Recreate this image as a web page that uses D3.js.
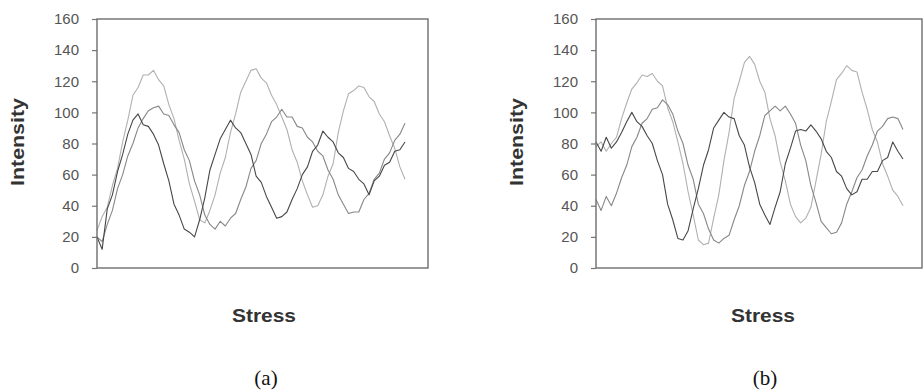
<!DOCTYPE html>
<html>
<head>
<meta charset="utf-8">
<script src="https://d3js.org/d3.v7.min.js"></script>
<style>
  body { margin: 0; background: #fff; }
  svg { display: block; }
</style>
</head>
<body>
<div id="chart"></div>
<script>
// stress steps (arbitrary units, 61 samples along the x axis)
var stress = d3.range(0, 61);

var yTicks = [0, 20, 40, 60, 80, 100, 120, 140, 160];

// panel (a)
var leftLight = [24, 33, 39, 53, 64, 81, 95, 111, 116, 124, 124, 127, 121, 117, 105, 96, 82, 70, 54, 43,
  31, 29, 37, 47, 61, 71, 87, 99, 113, 120, 127, 128, 122, 119, 111, 105, 97, 89, 76, 68,
  56, 47, 39, 40, 47, 59, 67, 87, 101, 112, 114, 117, 116, 110, 107, 99, 94, 85, 77, 65, 57];
var leftMedium = [20, 17, 28, 37, 51, 60, 72, 80, 90, 96, 101, 103, 104, 99, 98, 92, 87, 76, 69, 56,
  47, 34, 28, 25, 30, 27, 32, 35, 44, 52, 64, 69, 80, 86, 94, 97, 102, 97, 97, 91,
  90, 84, 81, 75, 72, 63, 57, 47, 41, 35, 36, 36, 44, 48, 57, 61, 70, 74, 82, 86, 93];
var leftDark = [20, 12, 38, 47, 62, 73, 86, 95, 99, 92, 91, 86, 79, 67, 56, 41, 34, 25, 23, 20,
  31, 45, 63, 73, 83, 89, 95, 90, 87, 80, 73, 59, 55, 46, 39, 32, 33, 36, 44, 51,
  60, 65, 75, 79, 88, 84, 81, 74, 71, 64, 62, 57, 54, 47, 56, 59, 66, 68, 75, 76, 81];

// panel (b)
var rightLight = [78, 81, 75, 80, 84, 96, 106, 115, 119, 124, 123, 125, 120, 117, 103, 94, 81, 67, 49, 34,
  18, 15, 16, 32, 47, 69, 87, 109, 120, 132, 136, 131, 120, 113, 96, 85, 68, 56, 41, 33,
  29, 32, 39, 56, 73, 94, 107, 121, 125, 130, 127, 126, 113, 102, 89, 81, 67, 59, 50, 46, 40];
var rightMedium = [44, 37, 46, 40, 48, 58, 66, 78, 84, 93, 96, 102, 103, 108, 105, 99, 88, 80, 66, 57,
  41, 35, 25, 18, 16, 19, 21, 31, 40, 53, 62, 75, 85, 98, 101, 104, 101, 104, 99, 93,
  79, 69, 53, 42, 30, 26, 22, 23, 29, 41, 49, 58, 63, 72, 79, 88, 91, 96, 97, 96, 89];
var rightDark = [81, 75, 84, 77, 81, 87, 94, 100, 94, 91, 85, 80, 69, 60, 41, 31, 19, 18, 24, 38,
  51, 66, 76, 90, 95, 100, 97, 96, 85, 79, 65, 55, 41, 34, 28, 39, 49, 67, 77, 88,
  89, 88, 92, 88, 83, 75, 71, 62, 59, 51, 47, 49, 57, 57, 62, 62, 69, 71, 81, 75, 70];

var svgWidth = 923;
var svgHeight = 392;

var plotTop = 19;
var plotBottom = 268;

var panels = [
  { left: 97, right: 428, lineEnd: 405, light: leftLight, medium: leftMedium, dark: leftDark, tag: "(a)" },
  { left: 596, right: 922, lineEnd: 903, light: rightLight, medium: rightMedium, dark: rightDark, tag: "(b)" }
];

var svg = d3.select("#chart")
  .append("svg")
  .attr("width", svgWidth)
  .attr("height", svgHeight);

var yScale = d3.scaleLinear()
  .domain([0, 160])
  .range([plotBottom, plotTop]);

panels.forEach(function(p) {
  var g = svg.append("g");

  var xScale = d3.scaleLinear()
    .domain([0, stress.length - 1])
    .range([p.left, p.lineEnd]);

  // y axis with outward ticks
  var leftAxis = d3.axisLeft(yScale)
    .tickValues(yTicks)
    .tickSize(5)
    .tickPadding(13);

  var axisG = g.append("g")
    .attr("transform", "translate(" + p.left + ",0)")
    .call(leftAxis);
  axisG.select(".domain").remove();
  axisG.selectAll(".tick line").attr("stroke", "#777").attr("stroke-width", 1.2);
  axisG.selectAll(".tick text")
    .attr("fill", "#555")
    .style("font-family", "Liberation Sans, Arial, sans-serif")
    .style("font-size", "15px");

  // series, light first so the darker ones sit on top
  var series = [
    { values: p.light, color: "#b0b0b0" },
    { values: p.medium, color: "#878787" },
    { values: p.dark, color: "#474747" }
  ];

  var line = d3.line()
    .x(function(d, i) { return xScale(stress[i]); })
    .y(function(d) { return yScale(d); });

  series.forEach(function(s) {
    g.append("path")
      .datum(s.values)
      .attr("fill", "none")
      .attr("stroke", s.color)
      .attr("stroke-width", 1.1)
      .attr("stroke-linejoin", "round")
      .attr("d", line);
  });

  // plot frame
  g.append("rect")
    .attr("x", p.left)
    .attr("y", plotTop)
    .attr("width", p.right - p.left)
    .attr("height", plotBottom - plotTop)
    .attr("fill", "none")
    .attr("stroke", "#6e6e6e")
    .attr("stroke-width", 1.4);

  // axis titles
  g.append("text")
    .attr("transform", "translate(" + (p.left - 73) + "," + 142 + ") rotate(-90)")
    .attr("text-anchor", "middle")
    .attr("fill", "#333")
    .attr("textLength", 88)
    .attr("lengthAdjust", "spacingAndGlyphs")
    .style("font-family", "Liberation Sans, Arial, sans-serif")
    .style("font-size", "18px")
    .style("font-weight", "bold")
    .text("Intensity");

  g.append("text")
    .attr("x", p.left + 167)
    .attr("y", 322)
    .attr("text-anchor", "middle")
    .attr("fill", "#333")
    .attr("textLength", 64)
    .attr("lengthAdjust", "spacingAndGlyphs")
    .style("font-family", "Liberation Sans, Arial, sans-serif")
    .style("font-size", "18px")
    .style("font-weight", "bold")
    .text("Stress");

  // panel tag
  g.append("text")
    .attr("x", p.left + 169)
    .attr("y", 385)
    .attr("text-anchor", "middle")
    .attr("fill", "#111")
    .style("font-family", "Liberation Serif, Times New Roman, serif")
    .style("font-size", "21px")
    .text(p.tag);
});
</script>
</body>
</html>
